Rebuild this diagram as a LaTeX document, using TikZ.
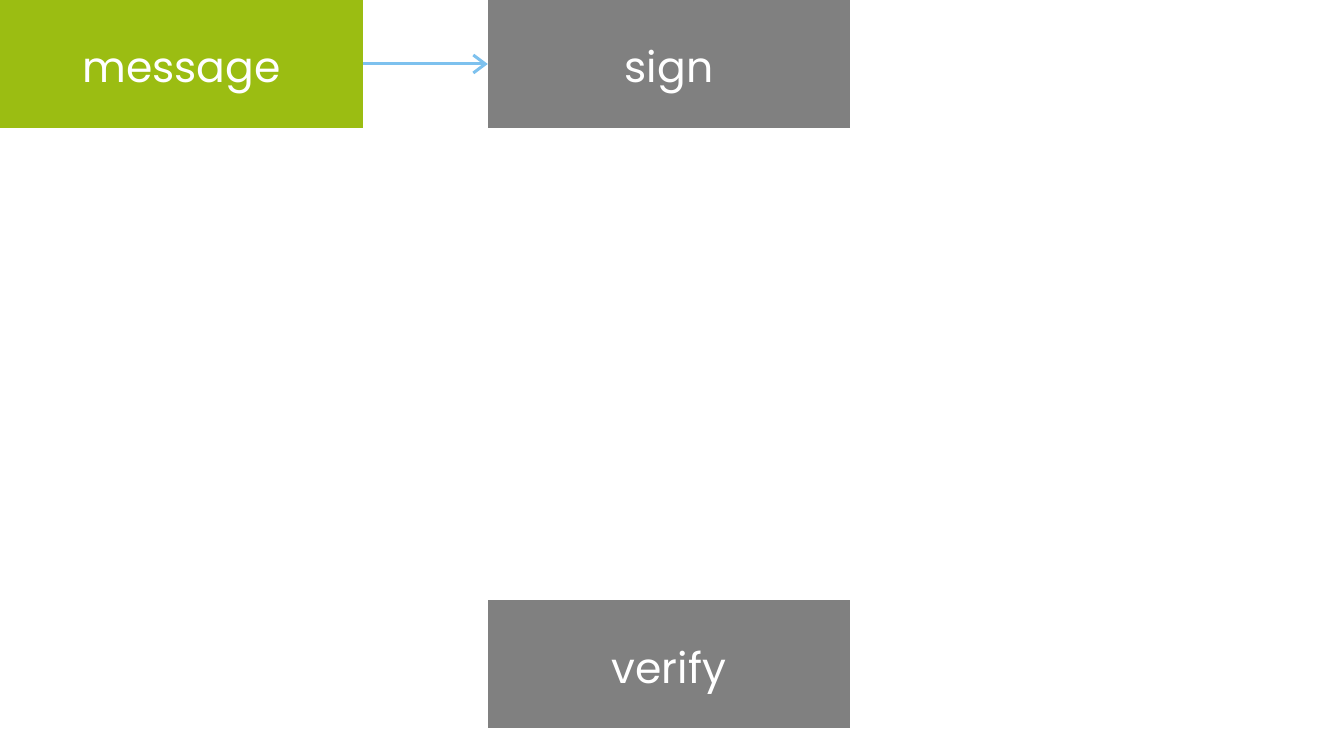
\documentclass[tikz,border=0pt]{standalone}
\usepackage{fontspec}
\setmainfont{Poppins}
\usetikzlibrary{arrows.meta}
\definecolor{msggreen}{HTML}{9BBD12}
\definecolor{boxgray}{HTML}{808080}
\definecolor{arrowblue}{HTML}{7DC1EE}
\begin{document}
\begin{tikzpicture}[x=1pt,y=1pt,
  box/.style={draw=none,minimum width=362pt,minimum height=128pt,inner sep=0pt,text=white,
    text height=38pt,text depth=0pt,font=\fontsize{42.5}{46}\selectfont},
  conn/.style={draw=arrowblue,line width=3pt,-{Straight Barb[length=12pt,width=18pt]}}]
\useasboundingbox (0,0) rectangle (1338,728);
\fill[white] (0,0) rectangle (1338,728);
\node[box,fill=msggreen,minimum width=363pt] (msg) at (181.5,664) {message};
\node[box,fill=boxgray] (sign) at (669,664) {sign};
\node[box,fill=boxgray] (verify) at (669,64) {verify};
\draw[conn] (msg.east) -- (sign.west);
\end{tikzpicture}
\end{document}
